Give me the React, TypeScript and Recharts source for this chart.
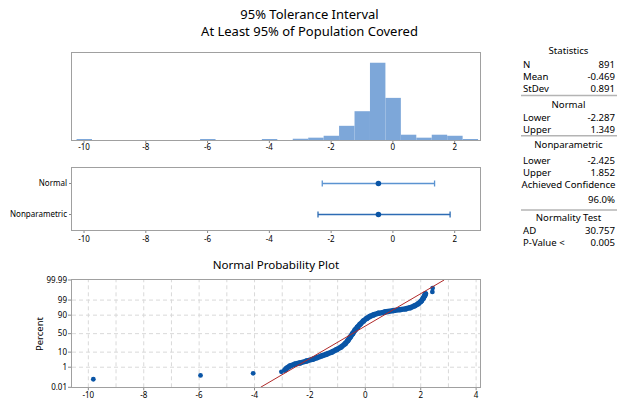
import React from 'react';
import { BarChart, Bar, XAxis, YAxis, ScatterChart, Scatter, ReferenceLine } from 'recharts';

const FONT = "'Noto Sans', 'Open Sans', sans-serif";

// Histogram: bin centres (bin width 0.5) and counts
const binCenters = [-10, -6, -4, -3, -2.5, -2, -1.5, -1, -0.5, 0, 0.5, 1, 1.5, 2, 2.5];
const binCounts = [1, 1, 1, 6, 11, 20, 67, 136, 365, 199, 25, 11, 25, 20, 3];
const BIN_WIDTH = 0.5;

// Shared axis ticks
const xTicks = [-10, -8, -6, -4, -2, 0, 2];
const probXTicks = [-10, -8, -6, -4, -2, 0, 2, 4];
const probGridX = [-10, -9, -8, -7, -6, -5, -4, -3, -2, -1, 0, 1, 2, 3, 4];
const percentTicks = [0.01, 1, 10, 50, 90, 99, 99.99];
const percentTickLabels = ['0.01', '1', '10', '50', '90', '99', '99.99'];
const percentGrid = [1, 10, 50, 90, 99];

// Summary statistics
const sampleN = 891;
const sampleMean = -0.469;
const sampleStDev = 0.891;
const normalLower = -2.287;
const normalUpper = 1.349;
const nonparLower = -2.425;
const nonparUpper = 1.852;
const achievedConfidence = 96.0;
const adStat = 30.757;
const pValue = 0.005;

const intervalNames = ['Normal', 'Nonparametric'];

// Probability plot: isolated observations
const tailValues = [-9.82, -5.95, -4.05, -3.03, 2.42, 2.43];
const tailPercents = [0.0786, 0.19, 0.3, 0.41, 99.81, 99.92];
// Probability plot: densely packed observations
const bandValues = [
  -2.9, -2.84, -2.72, -2.55, -2.36, -2.12, -1.9, -1.75, -1.55, -1.39, -1.2, -1.03,
  -0.88, -0.73, -0.63, -0.55, -0.46, -0.37, -0.28, -0.19, -0.07, 0.05, 0.17, 0.29,
  0.47, 0.7, 1.01, 1.25, 1.45, 1.62, 1.78, 1.91, 2.02, 2.09, 2.14, 2.17,
];
const bandPercents = [
  0.59, 0.82, 1.25, 1.7, 2.1, 2.9, 3.8, 4.8, 6.4, 7.8, 10.2, 13.6,
  17.6, 24.2, 31.6, 40.1, 50, 59.9, 67.7, 74.2, 81.1, 85.5, 88.5, 90.3,
  92.1, 93.3, 94.5, 95.2, 95.7, 96.4, 97.3, 98.1, 98.8, 99.29, 99.56, 99.71,
];

// Colours
const HIST_FILL = '#7da7d9';
const POINT_BLUE = '#0a55a6';
const FIT_RED = '#b02a2a';
const BORDER = '#a0a0a0';
const GRID = '#d9d9d9';

// Layout
const W = 619;
const PLOT_LEFT = 72;
const PLOT_RIGHT = 480;
const HIST_DOMAIN: [number, number] = [-10.39, 2.82];
const PROB_DOMAIN: [number, number] = [-10.59, 4.14];

// Inverse standard normal CDF (Acklam) for the probability scale
function probit(p: number): number {
  const a = [-39.69683028665376, 220.9460984245205, -275.9285104469687, 138.357751867269, -30.66479806614716, 2.506628277459239];
  const b = [-54.47609879822406, 161.5858368580409, -155.6989798598866, 66.80131188771972, -13.28068155288572];
  const c = [-0.007784894002430293, -0.3223964580411365, -2.400758277161838, -2.549732539343734, 4.374664141464968, 2.938163982698783];
  const d = [0.007784695709041462, 0.3224671290700398, 2.445134137142996, 3.754408661907416];
  const plow = 0.02425;
  if (p < plow) {
    const q = Math.sqrt(-2 * Math.log(p));
    return (((((c[0] * q + c[1]) * q + c[2]) * q + c[3]) * q + c[4]) * q + c[5]) /
      ((((d[0] * q + d[1]) * q + d[2]) * q + d[3]) * q + 1);
  }
  if (p > 1 - plow) {
    const q = Math.sqrt(-2 * Math.log(1 - p));
    return -(((((c[0] * q + c[1]) * q + c[2]) * q + c[3]) * q + c[4]) * q + c[5]) /
      ((((d[0] * q + d[1]) * q + d[2]) * q + d[3]) * q + 1);
  }
  const q = p - 0.5;
  const r = q * q;
  return ((((((a[0] * r + a[1]) * r + a[2]) * r + a[3]) * r + a[4]) * r + a[5]) * q) /
    (((((b[0] * r + b[1]) * r + b[2]) * r + b[3]) * r + b[4]) * r + 1);
}
const pz = (pct: number) => probit(pct / 100);

const histData = binCenters.map((x, i) => ({ x, count: binCounts[i] }));
const histBarPx = (BIN_WIDTH * (PLOT_RIGHT - PLOT_LEFT)) / (HIST_DOMAIN[1] - HIST_DOMAIN[0]);

const normalSeg = [{ x: normalLower, y: 1 }, { x: normalUpper, y: 1 }];
const nonparSeg = [{ x: nonparLower, y: 2 }, { x: nonparUpper, y: 2 }];
const meanPoints = [{ x: sampleMean, y: 1 }, { x: sampleMean, y: 2 }];

const zLo = pz(percentTicks[0]);
const zHi = pz(percentTicks[percentTicks.length - 1]);
const tailData = tailValues.map((x, i) => ({ x, z: pz(tailPercents[i]) }));
const bandData = bandValues.map((x, i) => ({ x, z: pz(bandPercents[i]) }));
const fitLine = [zLo, zHi].map((z) => ({ x: sampleMean + z * sampleStDev, z }));

const tickStyle = { fontSize: 8, fill: '#000', fontFamily: FONT };
const tickLine = { stroke: '#8a8a8a' };

// Histogram bar: centred on the bin position, spanning the full bin width
const HistBar = (props: any) => {
  const centre = props.x + props.width / 2;
  return <rect x={centre - histBarPx / 2} y={props.y} width={histBarPx} height={props.height} fill={HIST_FILL} />;
};
const Cap = (color: string) => (props: any) => (
  <line x1={props.cx} x2={props.cx} y1={props.cy - 3} y2={props.cy + 3} stroke={color} strokeWidth={1.3} />
);
const Dot = (r: number) => (props: any) => <circle cx={props.cx} cy={props.cy} r={r} fill={POINT_BLUE} />;
const NoDot = () => <g />;

type Row = { kind: 'head' | 'pair' | 'right' | 'rule'; y: number; a?: string; b?: string };
const statRows: Row[] = [
  { kind: 'head', y: 54, a: 'Statistics' },
  { kind: 'pair', y: 68, a: 'N', b: String(sampleN) },
  { kind: 'pair', y: 80.3, a: 'Mean', b: sampleMean.toFixed(3) },
  { kind: 'pair', y: 92, a: 'StDev', b: sampleStDev.toFixed(3) },
  { kind: 'rule', y: 95.5 },
  { kind: 'head', y: 108.3, a: 'Normal' },
  { kind: 'pair', y: 121, a: 'Lower', b: normalLower.toFixed(3) },
  { kind: 'pair', y: 132.8, a: 'Upper', b: normalUpper.toFixed(3) },
  { kind: 'rule', y: 135.8 },
  { kind: 'head', y: 148.3, a: 'Nonparametric' },
  { kind: 'pair', y: 164, a: 'Lower', b: nonparLower.toFixed(3) },
  { kind: 'pair', y: 176, a: 'Upper', b: nonparUpper.toFixed(3) },
  { kind: 'head', y: 188.4, a: 'Achieved Confidence' },
  { kind: 'right', y: 203.4, b: achievedConfidence.toFixed(1) + '%' },
  { kind: 'rule', y: 210 },
  { kind: 'head', y: 220.7, a: 'Normality Test' },
  { kind: 'pair', y: 234.2, a: 'AD', b: adStat.toFixed(3) },
  { kind: 'pair', y: 246, a: 'P-Value <', b: pValue.toFixed(3) },
];
const TBL_L = 523;
const TBL_R = 615;
const TBL_C = 568.5;

const frame = (top: number, bottom: number) => (
  <rect x={PLOT_LEFT - 0.5} y={top - 0.5} width={PLOT_RIGHT - PLOT_LEFT + 1} height={bottom - top + 1} fill="none" stroke={BORDER} strokeWidth={1} />
);

export default function App() {
  return (
    <div style={{ position: 'absolute', left: 0, top: 0, width: W, height: 401, background: '#fff', fontFamily: FONT, overflow: 'hidden' }}>
      {/* Histogram */}
      <div style={{ position: 'absolute', left: 0, top: 0 }}>
        <BarChart width={W} height={160} data={histData} margin={{ top: 53, right: W - PLOT_RIGHT, bottom: 0, left: PLOT_LEFT }} barGap={0} barCategoryGap={0}>
          <XAxis type="number" dataKey="x" domain={HIST_DOMAIN} allowDataOverflow ticks={xTicks} interval={0}
            tick={tickStyle} tickLine={tickLine} tickSize={3} tickMargin={1.3} axisLine={false} height={20} />
          <YAxis hide domain={[0, 411]} allowDataOverflow />
          <Bar dataKey="count" fill={HIST_FILL} barSize={histBarPx} minPointSize={1} shape={HistBar} isAnimationActive={false} />
        </BarChart>
      </div>

      {/* Tolerance intervals */}
      <div style={{ position: 'absolute', left: 0, top: 160 }}>
        <ScatterChart width={W} height={90} margin={{ top: 8, right: W - PLOT_RIGHT, bottom: 0, left: 0 }}>
          <XAxis type="number" dataKey="x" domain={HIST_DOMAIN} allowDataOverflow ticks={xTicks} interval={0}
            tick={tickStyle} tickLine={tickLine} tickSize={3} tickMargin={3} axisLine={false} height={20} />
          <YAxis type="number" dataKey="y" domain={[0.5, 2.5]} reversed allowDataOverflow ticks={[1, 2]} interval={0}
            tickFormatter={(v: number) => intervalNames[Math.round(v) - 1]} width={PLOT_LEFT}
            tick={tickStyle} tickLine={tickLine} tickSize={3} tickMargin={2} axisLine={false} />
          <Scatter data={normalSeg} line={{ stroke: '#5b93d1', strokeWidth: 1.3 }} shape={Cap('#5b93d1')} isAnimationActive={false} />
          <Scatter data={nonparSeg} line={{ stroke: '#2d6cb4', strokeWidth: 1.3 }} shape={Cap('#2d6cb4')} isAnimationActive={false} />
          <Scatter data={meanPoints} shape={Dot(2.8)} isAnimationActive={false} />
        </ScatterChart>
      </div>

      {/* Normal probability plot */}
      <div style={{ position: 'absolute', left: 0, top: 250 }}>
        <ScatterChart width={W} height={151} margin={{ top: 30, right: W - PLOT_RIGHT, bottom: 0, left: 0 }}>
          <XAxis type="number" dataKey="x" domain={PROB_DOMAIN} allowDataOverflow ticks={probXTicks} interval={0}
            tick={tickStyle} tickLine={tickLine} tickSize={3} tickMargin={2} axisLine={false} height={13.7} />
          <YAxis type="number" dataKey="z" domain={[zLo, zHi]} allowDataOverflow ticks={percentTicks.map(pz)} interval={0}
            tickFormatter={(_v: number, i: number) => percentTickLabels[i]} width={PLOT_LEFT}
            tick={tickStyle} tickLine={tickLine} tickSize={4} tickMargin={1} axisLine={false} />
          {probGridX.map((v) => (
            <ReferenceLine key={'gx' + v} x={v} stroke={GRID} strokeDasharray="4 3" />
          ))}
          {percentGrid.map((p) => (
            <ReferenceLine key={'gy' + p} y={pz(p)} stroke={GRID} strokeDasharray="4 3" />
          ))}
          <Scatter data={tailData} shape={Dot(2.4)} isAnimationActive={false} />
          <Scatter data={bandData} line={{ stroke: POINT_BLUE, strokeWidth: 5.4, strokeLinecap: 'round', strokeLinejoin: 'round' }} shape={Dot(2.7)} isAnimationActive={false} />
          <Scatter data={fitLine} line={{ stroke: FIT_RED, strokeWidth: 1 }} shape={NoDot} isAnimationActive={false} />
        </ScatterChart>
      </div>

      {/* Frames, titles and statistics table */}
      <svg width={W} height={401} style={{ position: 'absolute', left: 0, top: 0, pointerEvents: 'none' }} fontFamily={FONT}>
        {frame(53, 140)}
        {frame(168, 230)}
        {frame(280, 387)}
        <text x={W / 2} y={18.8} textAnchor="middle" fontSize={13} fill="#000">95% Tolerance Interval</text>
        <text x={W / 2} y={35.6} textAnchor="middle" fontSize={13} fill="#000">At Least 95% of Population Covered</text>
        <text x={(PLOT_LEFT + PLOT_RIGHT) / 2} y={268.5} textAnchor="middle" fontSize={11.6} fill="#000">Normal Probability Plot</text>
        <text x={0} y={0} transform="translate(43,334) rotate(-90)" textAnchor="middle" fontSize={9.5} fill="#000">Percent</text>
        {statRows.map((r, i) => {
          if (r.kind === 'rule') {
            return <line key={i} x1={TBL_L - 2} x2={TBL_R + 2} y1={r.y} y2={r.y} stroke="#b4b4b4" strokeWidth={1.5} />;
          }
          if (r.kind === 'head') {
            return <text key={i} x={TBL_C} y={r.y} textAnchor="middle" fontSize={9.6} fill="#000">{r.a}</text>;
          }
          if (r.kind === 'right') {
            return <text key={i} x={TBL_R} y={r.y} textAnchor="end" fontSize={9.6} fill="#000">{r.b}</text>;
          }
          return (
            <g key={i}>
              <text x={TBL_L} y={r.y} fontSize={9.6} fill="#000">{r.a}</text>
              <text x={TBL_R} y={r.y} textAnchor="end" fontSize={9.6} fill="#000">{r.b}</text>
            </g>
          );
        })}
      </svg>
    </div>
  );
}
